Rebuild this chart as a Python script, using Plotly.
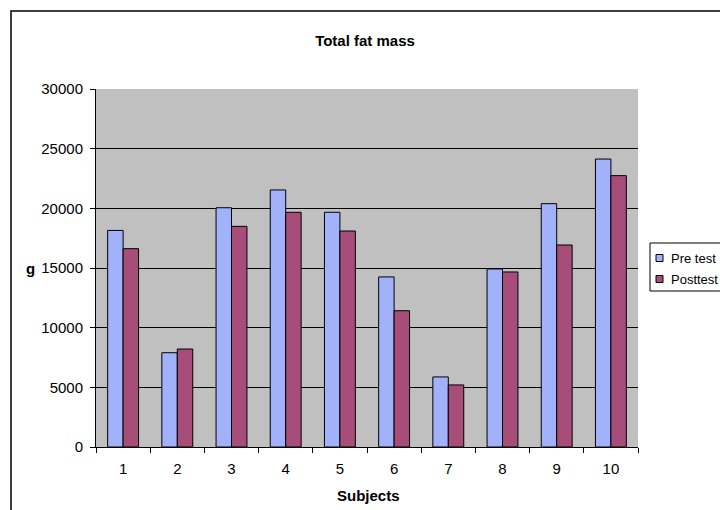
import plotly.graph_objects as go

# Total fat mass per subject (grams), before and after the intervention
subjects = ["1", "2", "3", "4", "5", "6", "7", "8", "9", "10"]
pre_test = [18150, 7900, 20050, 21540, 19670, 14250, 5870, 14920, 20390, 24130]
post_test = [16620, 8210, 18490, 19670, 18100, 11420, 5200, 14670, 16930, 22740]
series_names = ["Pre test", "Posttest"]
series_colors = ["#A2B2FA", "#A64D79"]

W, H = 720, 510
L, R, T, B = 96, 82, 89, 63
plot_w = W - L - R
plot_h = H - T - B

FONT = "Liberation Sans, Arial, sans-serif"


def px_x(px):
    return (px - L) / plot_w


def px_y(py):
    return (H - B - py) / plot_h


fig = go.Figure()
for name, values, color in zip(series_names, [pre_test, post_test], series_colors):
    fig.add_trace(go.Bar(
        x=subjects, y=values, name=name, showlegend=False,
        marker=dict(color=color, line=dict(color="black", width=1)),
    ))

fig.update_layout(
    width=W, height=H,
    margin=dict(l=L, r=R, t=T, b=B, autoexpand=False),
    paper_bgcolor="white",
    plot_bgcolor="#C0C0C0",
    barmode="group",
    bargap=0.43,
    bargroupgap=0,
    font=dict(family=FONT, size=15, color="black"),
    title=dict(
        text="<b>Total fat mass</b>",
        x=365 / W, xanchor="center",
        y=1 - 41 / H, yanchor="middle",
        font=dict(family=FONT, size=15, color="black"),
    ),
)

fig.update_xaxes(
    type="category",
    showline=True, linecolor="black", linewidth=1,
    ticks="outside", tickson="boundaries", ticklen=5, tickcolor="black",
    ticklabelstandoff=8,
    showgrid=False,
    tickfont=dict(family=FONT, size=15, color="black"),
)
fig.update_yaxes(
    range=[0, 30000], dtick=5000, tickformat="d",
    showline=True, linecolor="black", linewidth=1,
    ticks="outside", ticklen=5, tickcolor="black",
    ticklabelstandoff=4,
    showgrid=True, gridcolor="black", gridwidth=1,
    zeroline=False,
    tickfont=dict(family=FONT, size=15, color="black"),
)

# Axis titles
fig.add_annotation(
    text="<b>g</b>", xref="paper", yref="paper",
    x=px_x(30), y=px_y(268), xanchor="center", yanchor="middle",
    showarrow=False, font=dict(family=FONT, size=15, color="black"),
)
fig.add_annotation(
    text="<b>Subjects</b>", xref="paper", yref="paper",
    x=px_x(368), y=px_y(496), xanchor="center", yanchor="middle",
    showarrow=False, font=dict(family=FONT, size=15, color="black"),
)

# Legend box with compact swatches
fig.add_shape(
    type="rect", xref="paper", yref="paper",
    x0=px_x(650), x1=px_x(W + 20), y0=px_y(291), y1=px_y(243),
    line=dict(color="black", width=1), fillcolor="white", layer="above",
)
for i, (name, color) in enumerate(zip(series_names, series_colors)):
    cy = 258 + 21 * i
    fig.add_shape(
        type="rect", xref="paper", yref="paper",
        x0=px_x(656), x1=px_x(663), y0=px_y(cy + 3.5), y1=px_y(cy - 3.5),
        line=dict(color="black", width=1), fillcolor=color, layer="above",
    )
    fig.add_annotation(
        text=name, xref="paper", yref="paper",
        x=px_x(669), y=px_y(cy), xanchor="left", yanchor="middle",
        showarrow=False, font=dict(family=FONT, size=13, color="black"),
    )

# Chart area border
fig.add_shape(
    type="rect", xref="paper", yref="paper",
    x0=px_x(11), x1=px_x(W + 20), y0=px_y(H + 20), y1=px_y(11),
    line=dict(color="black", width=1.5), fillcolor="rgba(0,0,0,0)",
    layer="above",
)

fig.write_html("out.html")
